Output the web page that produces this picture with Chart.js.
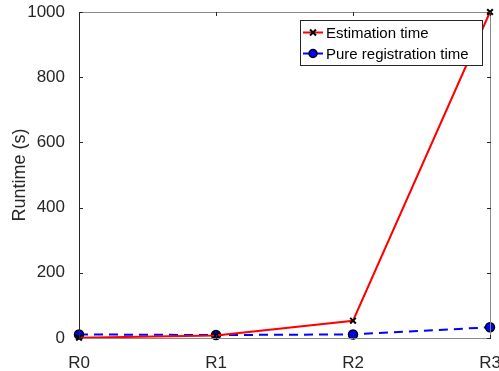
<!DOCTYPE html>
<html>
<head>
<meta charset="utf-8">
<script src="https://cdn.jsdelivr.net/npm/chart.js@4"></script>
<style>
  html, body { margin: 0; padding: 0; background: #fff; }
  #wrap { width: 499px; height: 371px; }
</style>
</head>
<body>
<div id="wrap"><canvas id="runtimeChart" width="499" height="371"></canvas></div>
<script>
// data
const categories = ['R0', 'R1', 'R2', 'R3'];
const estimationTime = [1, 8, 53, 1000];
const pureRegistrationTime = [11, 9, 11, 33];
const yTicks = [0, 200, 400, 600, 800, 1000];

const FONT = 'Liberation Sans, Arial, sans-serif';

// axes box + inward ticks, MATLAB style
const boxPlugin = {
    id: 'box',
    afterDraw(chart) {
        const { ctx, chartArea: a, scales } = chart;
        ctx.save();
        ctx.strokeStyle = '#8a8a8a';
        ctx.lineWidth = 1;
        ctx.beginPath();
        ctx.moveTo(a.left, a.top + 0.5); ctx.lineTo(a.right + 0.5, a.top + 0.5);
        ctx.lineTo(a.right + 0.5, a.bottom + 0.5); ctx.lineTo(a.left, a.bottom + 0.5);
        ctx.stroke();
        ctx.strokeStyle = '#262626';
        ctx.beginPath();
        ctx.moveTo(a.left + 0.5, a.top);
        ctx.lineTo(a.left + 0.5, a.bottom + 1);
        yTicks.forEach(v => {
            const y = Math.round(scales.y.getPixelForValue(v)) + 0.5;
            ctx.moveTo(a.left, y); ctx.lineTo(a.left + 4, y);
            ctx.moveTo(a.right + 1, y); ctx.lineTo(a.right - 3, y);
        });
        categories.forEach((c, i) => {
            const x = Math.round(scales.x.getPixelForValue(i)) + 0.5;
            ctx.moveTo(x, a.bottom + 1); ctx.lineTo(x, a.bottom - 3);
            ctx.moveTo(x, a.top); ctx.lineTo(x, a.top + 4);
        });
        ctx.stroke();
        ctx.restore();
    }
};

// legend box in the top right corner
const legendPlugin = {
    id: 'matlabLegend',
    afterDraw(chart) {
        const { ctx } = chart;
        const x0 = 300, y0 = 20, w = 182, h = 45;
        ctx.save();
        ctx.fillStyle = '#fff';
        ctx.fillRect(x0, y0, w, h);
        ctx.strokeStyle = '#262626';
        ctx.lineWidth = 1;
        ctx.strokeRect(x0 + 0.5, y0 + 0.5, w, h);
        ctx.font = '15px ' + FONT;
        ctx.textBaseline = 'middle';
        chart.data.datasets.forEach((ds, i) => {
            const y = y0 + 12.5 + i * 21;
            ctx.strokeStyle = ds.borderColor;
            ctx.lineWidth = 2;
            ctx.setLineDash([]);
            ctx.beginPath();
            ctx.moveTo(x0 + 3, y); ctx.lineTo(x0 + 23, y);
            ctx.stroke();
            if (ds.pointStyle === 'crossRot') {
                ctx.strokeStyle = '#000';
                ctx.lineWidth = 2;
                ctx.beginPath();
                ctx.moveTo(x0 + 10, y - 3); ctx.lineTo(x0 + 16, y + 3);
                ctx.moveTo(x0 + 16, y - 3); ctx.lineTo(x0 + 10, y + 3);
                ctx.stroke();
            } else {
                ctx.fillStyle = ds.pointBackgroundColor;
                ctx.strokeStyle = '#000';
                ctx.lineWidth = 1.5;
                ctx.beginPath();
                ctx.arc(x0 + 13, y, 4, 0, Math.PI * 2);
                ctx.fill();
                ctx.stroke();
            }
            ctx.fillStyle = '#000';
            ctx.fillText(ds.label, x0 + 26, y + 1);
        });
        ctx.restore();
    }
};

new Chart(document.getElementById('runtimeChart'), {
    type: 'line',
    data: {
        labels: categories,
        datasets: [{
            label: 'Estimation time',
            data: estimationTime,
            borderColor: '#ff0000',
            borderWidth: 2,
            pointStyle: 'crossRot',
            pointRadius: 4,
            pointBorderColor: '#000',
            pointBorderWidth: 2,
            pointBackgroundColor: '#000',
            tension: 0,
            fill: false
        }, {
            label: 'Pure registration time',
            data: pureRegistrationTime,
            borderColor: '#0000ff',
            borderWidth: 2,
            borderDash: [9, 6],
            pointStyle: 'circle',
            pointRadius: 4.5,
            pointBorderColor: '#000',
            pointBorderWidth: 1.5,
            pointBackgroundColor: '#0000ff',
            tension: 0,
            fill: false
        }]
    },
    options: {
        responsive: false,
        animation: false,
        clip: false,
        layout: { padding: { top: 12, right: 9, left: 0, bottom: 0 } },
        plugins: { legend: { display: false }, tooltip: { enabled: false } },
        scales: {
            x: {
                type: 'category',
                offset: false,
                grid: { display: false },
                border: { display: false },
                ticks: { color: '#262626', font: { family: FONT, size: 17 }, padding: 7, maxRotation: 0, autoSkip: false },
                afterFit(scale) {
                    scale.height = 33;
                    scale.paddingLeft = 0;
                    scale.paddingRight = 0;
                }
            },
            y: {
                min: 0,
                max: 1000,
                afterBuildTicks(scale) { scale.ticks = yTicks.map(v => ({ value: v })); },
                grid: { display: false },
                border: { display: false },
                ticks: {
                    color: '#262626',
                    font: { family: FONT, size: 17 },
                    padding: 6,
                    callback: v => String(v)
                },
                title: { display: true, text: 'Runtime (s)', color: '#262626', font: { family: FONT, size: 18 }, padding: { top: 9, bottom: 0 } },
                afterFit(scale) {
                    scale.width = 79;
                    scale.paddingTop = 0;
                    scale.paddingBottom = 0;
                }
            }
        }
    },
    plugins: [boxPlugin, legendPlugin]
});
</script>
</body>
</html>
